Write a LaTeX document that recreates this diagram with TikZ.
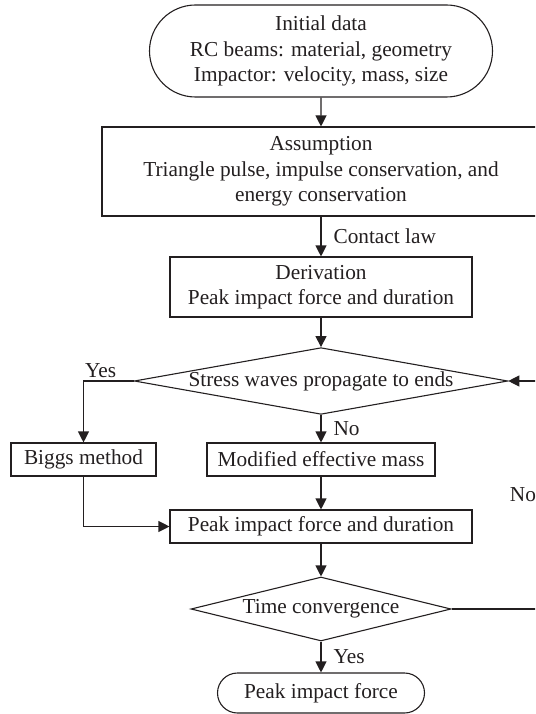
\documentclass[tikz,border=0pt]{standalone}
\usepackage{fontspec}
\setmainfont{Liberation Serif}
\usetikzlibrary{arrows.meta,shapes}

\definecolor{ink}{HTML}{231F20}

\begin{document}
\begin{tikzpicture}[->,>={Triangle[length=11pt,width=11pt]},auto,line width=1.1pt,color=ink,
        every node/.style={font=\fontsize{21.3pt}{25.5pt}\selectfont}]
        \tikzstyle{terminal}=[draw, rounded rectangle, align=center, inner sep=0pt]
        \tikzstyle{block}=[draw, rectangle, align=center, inner sep=0pt]
        \tikzstyle{decision}=[draw, diamond, inner sep=0pt]
        \tikzstyle{tag}=[inner sep=12pt]

        \useasboundingbox (0,0) rectangle (535pt,-714pt);
        \clip (0,0) rectangle (535pt,-714pt);

        \node[terminal, minimum width=343pt, minimum height=92pt] (init) at (321pt,-51pt)
            {Initial data\\RC beams: material, geometry\\Impactor: velocity, mass, size};
        \node[block, minimum width=438pt, minimum height=89pt]  (assume) [node distance=120.5pt, below of=init]
            {Assumption\\Triangle pulse, impulse conservation, and\\energy conservation};
        \node[block, minimum width=302pt, minimum height=60pt]  (deriv)  [node distance=115.5pt, below of=assume]
            {Derivation\\Peak impact force and duration};
        \node[decision, aspect=5.6, minimum width=372pt, minimum height=66pt] (waves) [node distance=94pt, below of=deriv]
            {Stress waves propagate to ends};
        \node[block, minimum width=228pt, minimum height=33pt]  (modif)  [node distance=78.5pt, below of=waves]
            {Modified effective mass};
        \node[block, minimum width=145pt, minimum height=33pt]  (biggs)  [node distance=237.5pt, left of=modif]
            {Biggs method};
        \node[block, minimum width=302pt, minimum height=33pt]  (peak)   [node distance=67pt, below of=modif]
            {Peak impact force and duration};
        \node[decision, aspect=4, minimum width=260pt, minimum height=64pt] (conv) [node distance=82.5pt, below of=peak]
            {Time convergence};
        \node[terminal, minimum width=207pt, minimum height=40pt] (final) [node distance=84pt, below of=conv]
            {Peak impact force};

        \path (init)   edge                       (assume)
              (assume) edge node[tag] {Contact law} (deriv)
              (deriv)  edge                       (waves)
              (waves)  edge node[tag] {No}        (modif)
              (modif)  edge                       (peak)
              (peak)   edge                       (conv)
              (conv)   edge node[tag] {Yes}       (final);

        \draw (waves.west) -| node[pos=0.33, above, inner sep=3pt] {Yes} (biggs.north);
        \draw (biggs.south) |- (peak.west);
        \draw (conv.east) -- ++(97pt,0) |- node[tag, pos=0.25, left] {No} (waves.east);
\end{tikzpicture}
\end{document}
